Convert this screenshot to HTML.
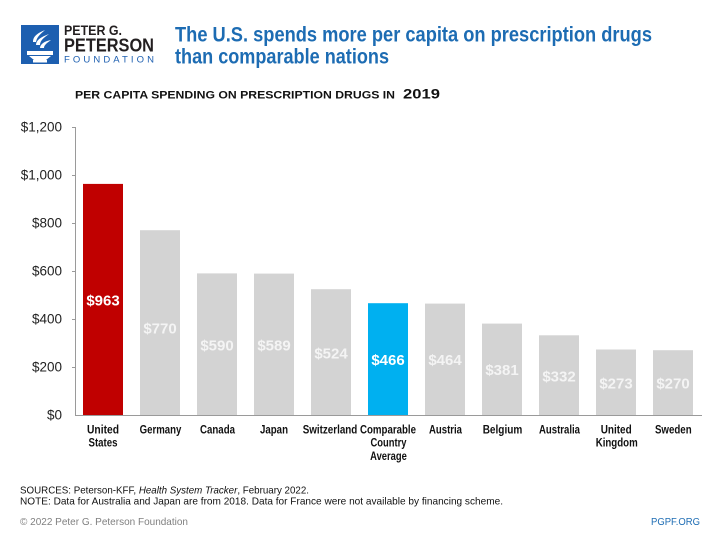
<!DOCTYPE html>
<html><head><meta charset="utf-8"><style>
html,body{margin:0;padding:0;background:#fff;}
svg{display:block;}
text{font-family:"Liberation Sans",sans-serif;}
</style></head><body>
<svg width="720" height="540" viewBox="0 0 720 540" xmlns="http://www.w3.org/2000/svg">
<rect width="720" height="540" fill="#fff"/>
<!-- Logo -->
<rect x="21" y="25" width="38" height="39" fill="#1d5fb0"/>
<g fill="#fff">
  <path d="M33 42 C33 36 38 33 45 30 C42 33 37 36 36 42 Z"/>
  <path d="M36 45 C36 40 41 37 49 34 C45 37 40 40 40 45 Z"/>
  <path d="M40 48 C40 44 45 41 51 40 C47 43 44 45 44 48 Z"/>
  <rect x="27" y="51" width="26" height="4"/>
  <path d="M29 56 L51 56 L46 60 L34 60 Z"/>
  <rect x="33" y="60" width="14" height="2.5"/>
</g>
<text x="64" y="35" font-size="14" font-weight="bold" fill="#231f20" textLength="58" lengthAdjust="spacingAndGlyphs">PETER G.</text>
<text x="64" y="51.5" font-size="18.5" font-weight="bold" fill="#231f20" textLength="90" lengthAdjust="spacingAndGlyphs">PETERSON</text>
<text x="64" y="62.3" font-size="9.5" fill="#1d5fb0" textLength="90" lengthAdjust="spacing">FOUNDATION</text>

<!-- Title -->
<text x="175" y="41.7" font-size="21" font-weight="bold" fill="#1d6cb3" textLength="477" lengthAdjust="spacingAndGlyphs">The U.S. spends more per capita on prescription drugs</text>
<text x="175" y="63.3" font-size="21" font-weight="bold" fill="#1d6cb3" textLength="214" lengthAdjust="spacingAndGlyphs">than comparable nations</text>

<!-- Subtitle -->
<text x="75" y="98.7" font-size="10.8" font-weight="bold" fill="#111" textLength="320" lengthAdjust="spacingAndGlyphs">PER CAPITA SPENDING ON PRESCRIPTION DRUGS IN</text>
<text x="403" y="98.7" font-size="14" font-weight="bold" fill="#111" textLength="37" lengthAdjust="spacingAndGlyphs">2019</text>

<!-- Y axis -->
<g stroke="#9a9a9a" stroke-width="1">
  <line x1="75.5" y1="127" x2="75.5" y2="415"/>
  <line x1="72" y1="127.5" x2="75.5" y2="127.5"/>
  <line x1="72" y1="175.5" x2="75.5" y2="175.5"/>
  <line x1="72" y1="223.5" x2="75.5" y2="223.5"/>
  <line x1="72" y1="271.5" x2="75.5" y2="271.5"/>
  <line x1="72" y1="319.5" x2="75.5" y2="319.5"/>
  <line x1="72" y1="367.5" x2="75.5" y2="367.5"/>
</g>
<g font-size="13.5" fill="#222" text-anchor="end">
  <text x="62" y="131.5">$1,200</text>
  <text x="62" y="179.5">$1,000</text>
  <text x="62" y="227.5">$800</text>
  <text x="62" y="275.5">$600</text>
  <text x="62" y="323.5">$400</text>
  <text x="62" y="371.5">$200</text>
  <text x="62" y="419.5">$0</text>
</g>

<!-- Bars -->
<rect x="83" y="183.9" width="40" height="231.1" fill="#c00000"/>
<rect x="140" y="230.2" width="40" height="184.8" fill="#d3d3d3"/>
<rect x="197" y="273.4" width="40" height="141.6" fill="#d3d3d3"/>
<rect x="254" y="273.6" width="40" height="141.4" fill="#d3d3d3"/>
<rect x="311" y="289.2" width="40" height="125.8" fill="#d3d3d3"/>
<rect x="368" y="303.2" width="40" height="111.8" fill="#00b0f0"/>
<rect x="425" y="303.6" width="40" height="111.4" fill="#d3d3d3"/>
<rect x="482" y="323.6" width="40" height="91.4" fill="#d3d3d3"/>
<rect x="539" y="335.3" width="40" height="79.7" fill="#d3d3d3"/>
<rect x="596" y="349.5" width="40" height="65.5" fill="#d3d3d3"/>
<rect x="653" y="350.2" width="40" height="64.8" fill="#d3d3d3"/>

<line x1="75" y1="415.5" x2="702" y2="415.5" stroke="#9a9a9a" stroke-width="1"/>

<!-- Value labels -->
<g font-size="15" font-weight="bold" text-anchor="middle">
  <text x="103" y="305.7" fill="#fff">$963</text>
  <text x="160" y="333.3" fill="#f4f4f4">$770</text>
  <text x="217" y="350.7" fill="#f4f4f4">$590</text>
  <text x="274" y="350.5" fill="#f4f4f4">$589</text>
  <text x="331" y="358.3" fill="#f4f4f4">$524</text>
  <text x="388" y="365" fill="#fff">$466</text>
  <text x="445" y="365" fill="#f4f4f4">$464</text>
  <text x="502" y="375" fill="#f4f4f4">$381</text>
  <text x="559" y="381.5" fill="#f4f4f4">$332</text>
  <text x="616" y="388.3" fill="#f4f4f4">$273</text>
  <text x="673" y="388.3" fill="#f4f4f4">$270</text>
</g>

<!-- Category labels -->
<g font-size="11.5" font-weight="bold" fill="#111" text-anchor="middle">
  <text x="103" y="433.3" textLength="32" lengthAdjust="spacingAndGlyphs">United</text>
  <text x="103" y="446.7" textLength="29" lengthAdjust="spacingAndGlyphs">States</text>
  <text x="160.5" y="433.3" textLength="41.7" lengthAdjust="spacingAndGlyphs">Germany</text>
  <text x="217.5" y="433.3" textLength="35" lengthAdjust="spacingAndGlyphs">Canada</text>
  <text x="274" y="433.3" textLength="28" lengthAdjust="spacingAndGlyphs">Japan</text>
  <text x="330" y="433.3" textLength="54.6" lengthAdjust="spacingAndGlyphs">Switzerland</text>
  <text x="388" y="433.3" textLength="56" lengthAdjust="spacingAndGlyphs">Comparable</text>
  <text x="388.5" y="446.7" textLength="36" lengthAdjust="spacingAndGlyphs">Country</text>
  <text x="388.5" y="460" textLength="36.7" lengthAdjust="spacingAndGlyphs">Average</text>
  <text x="445.5" y="433.3" textLength="33" lengthAdjust="spacingAndGlyphs">Austria</text>
  <text x="502.5" y="433.3" textLength="39.6" lengthAdjust="spacingAndGlyphs">Belgium</text>
  <text x="559.5" y="433.3" textLength="41" lengthAdjust="spacingAndGlyphs">Australia</text>
  <text x="616.2" y="433.3" textLength="31" lengthAdjust="spacingAndGlyphs">United</text>
  <text x="616.7" y="446.7" textLength="42" lengthAdjust="spacingAndGlyphs">Kingdom</text>
  <text x="673.3" y="433.3" textLength="36.7" lengthAdjust="spacingAndGlyphs">Sweden</text>
</g>

<!-- Footer -->
<text x="20" y="493.3" font-size="10.5" fill="#111" textLength="289" lengthAdjust="spacingAndGlyphs">SOURCES: Peterson-KFF, <tspan font-style="italic">Health System Tracker</tspan>, February 2022.</text>
<text x="20" y="504.5" font-size="10.5" fill="#111" textLength="483" lengthAdjust="spacingAndGlyphs">NOTE: Data for Australia and Japan are from 2018. Data for France were not available by financing scheme.</text>
<text x="20" y="525" font-size="10.5" fill="#808080" textLength="168" lengthAdjust="spacingAndGlyphs">© 2022 Peter G. Peterson Foundation</text>
<text x="651" y="525" font-size="10.5" fill="#1d6cb3" textLength="49" lengthAdjust="spacingAndGlyphs">PGPF.ORG</text>
</svg>
</body></html>
